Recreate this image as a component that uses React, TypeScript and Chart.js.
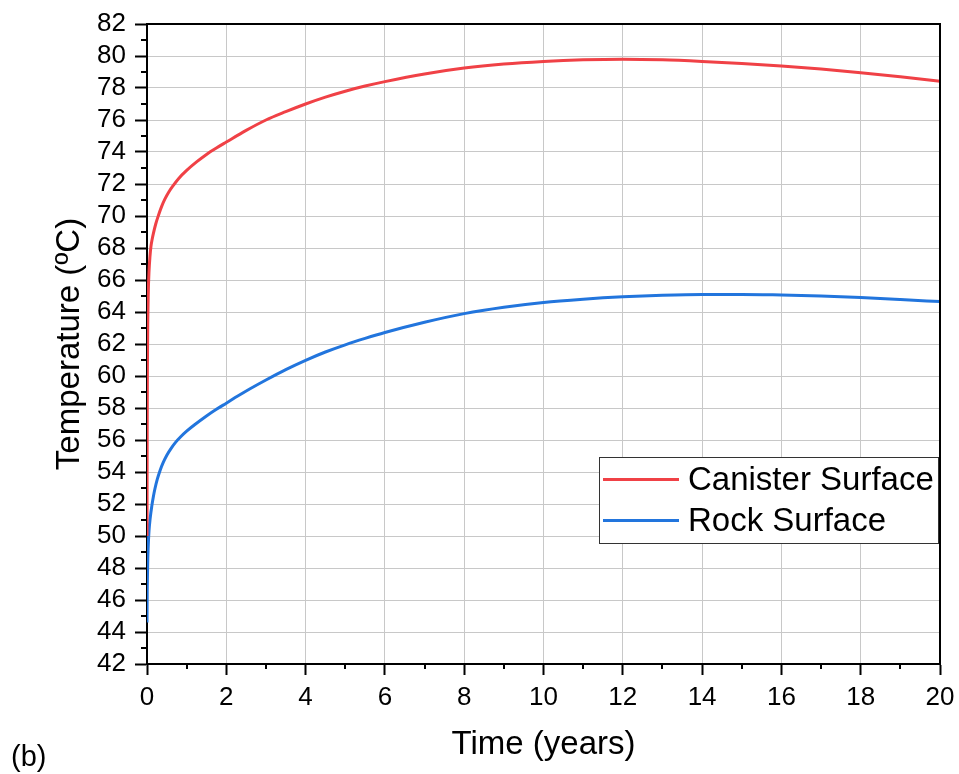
import React, { useEffect, useRef } from "react";
import { Chart, registerables } from "chart.js";

Chart.register(...registerables);

const FONT = "'Liberation Sans', Arial, sans-serif";

const canisterTime = [0, 0.005, 0.01, 0.02, 0.03, 0.05, 0.076, 0.1, 0.13, 0.16, 0.22, 0.29, 0.37, 0.45, 0.55, 0.66, 0.8, 1.0, 1.25, 1.5, 1.75, 2.0, 2.5, 3.0, 3.5, 4.0, 4.5, 5.0, 5.5, 6.0, 7.0, 8.0, 9.0, 10, 11, 12, 13, 14, 15, 16, 17, 18, 19, 20];
const canisterTemp = [50.0, 57.0, 60.5, 63.5, 65.0, 66.5, 67.5, 68.1, 68.55, 68.9, 69.5, 70.05, 70.6, 71.05, 71.5, 71.9, 72.35, 72.85, 73.38, 73.85, 74.25, 74.62, 75.35, 76.0, 76.52, 77.0, 77.43, 77.8, 78.12, 78.4, 78.88, 79.25, 79.5, 79.66, 79.76, 79.8, 79.76, 79.66, 79.53, 79.37, 79.18, 78.96, 78.7, 78.42];

const rockTime = [0, 0.005, 0.01, 0.02, 0.03, 0.05, 0.08, 0.12, 0.16, 0.2, 0.26, 0.33, 0.41, 0.5, 0.6, 0.72, 0.85, 1.0, 1.2, 1.5, 1.75, 2.0, 2.3, 2.6, 3.0, 3.5, 4.0, 4.5, 5.0, 5.5, 6.0, 7.0, 8.0, 9.0, 10, 11, 12, 13, 14, 15, 16, 17, 18, 19, 20];
const rockTemp = [44.6, 46.5, 47.3, 48.6, 49.3, 50.3, 51.1, 51.85, 52.45, 52.95, 53.55, 54.1, 54.6, 55.05, 55.45, 55.85, 56.2, 56.55, 56.95, 57.5, 57.92, 58.3, 58.76, 59.2, 59.75, 60.4, 60.98, 61.5, 61.95, 62.35, 62.72, 63.36, 63.9, 64.3, 64.6, 64.8, 64.95, 65.05, 65.1, 65.1, 65.06, 65.0, 64.9, 64.78, 64.65];

const seriesLabels = ["Canister Surface", "Rock Surface"];
const seriesColors = ["#F04146", "#2275DD"];

const xTitle = "Time (years)";
const yTitle = "Temperature (ºC)";
const panelLabel = "(b)";

const toPoints = (xs: number[], ys: number[]) => xs.map((x, i) => ({ x, y: ys[i] }));

const decorPlugin = {
  id: "decor",
  afterDraw(chart: any) {
    const { ctx, chartArea, scales } = chart;
    const { left, right, top, bottom } = chartArea;
    ctx.save();
    // frame top/right
    ctx.strokeStyle = "#000";
    ctx.lineWidth = 2;
    ctx.beginPath();
    ctx.moveTo(left - 1, top);
    ctx.lineTo(right, top);
    ctx.lineTo(right, bottom + 1);
    ctx.stroke();
    // minor ticks
    ctx.beginPath();
    for (let v = 1; v < 20; v += 2) {
      const px = Math.round(scales.x.getPixelForValue(v));
      ctx.moveTo(px, bottom);
      ctx.lineTo(px, bottom + 5);
    }
    for (let v = 43; v < 82; v += 2) {
      const py = Math.round(scales.y.getPixelForValue(v));
      ctx.moveTo(left, py);
      ctx.lineTo(left - 6, py);
    }
    ctx.stroke();

    // legend
    const bw = 339;
    const bh = 86;
    const bx = right - 2 - bw;
    const by = 457;
    ctx.fillStyle = "#fff";
    ctx.fillRect(bx, by, bw, bh);
    ctx.strokeStyle = "#333";
    ctx.lineWidth = 1;
    ctx.strokeRect(bx + 0.5, by + 0.5, bw, bh);
    const rows = [479.5, 520.5];
    chart.data.datasets.forEach((ds: any, i: number) => {
      ctx.strokeStyle = ds.borderColor;
      ctx.lineWidth = 3;
      ctx.beginPath();
      ctx.moveTo(bx + 4, rows[i]);
      ctx.lineTo(bx + 80, rows[i]);
      ctx.stroke();
      ctx.fillStyle = "#000";
      ctx.font = `33px ${FONT}`;
      ctx.textBaseline = "middle";
      ctx.textAlign = "left";
      ctx.fillText(ds.label, bx + 89, rows[i] + 1);
    });

    // panel label
    ctx.fillStyle = "#000";
    ctx.font = `29px ${FONT}`;
    ctx.textBaseline = "alphabetic";
    ctx.textAlign = "left";
    ctx.fillText(panelLabel, 11, 766);
    ctx.restore();
  },
};

export default function App() {
  const ref = useRef<HTMLCanvasElement | null>(null);

  useEffect(() => {
    if (!ref.current) return;
    const chart = new Chart(ref.current, {
      type: "scatter",
      data: {
        datasets: [
          {
            label: seriesLabels[0],
            data: toPoints(canisterTime, canisterTemp),
            borderColor: seriesColors[0],
            backgroundColor: seriesColors[0],
            borderWidth: 3,
            showLine: true,
            pointRadius: 0,
            cubicInterpolationMode: "monotone",
          },
          {
            label: seriesLabels[1],
            data: toPoints(rockTime, rockTemp),
            borderColor: seriesColors[1],
            backgroundColor: seriesColors[1],
            borderWidth: 3,
            showLine: true,
            pointRadius: 0,
            cubicInterpolationMode: "monotone",
          },
        ],
      },
      options: {
        animation: false,
        responsive: false,
        layout: { padding: { top: 24, right: 19, left: 0, bottom: 0 } },
        plugins: {
          legend: { display: false },
          tooltip: { enabled: false },
        },
        scales: {
          x: {
            type: "linear",
            min: 0,
            max: 20,
            ticks: {
              stepSize: 2,
              autoSkip: false,
              color: "#000",
              padding: 7,
              font: { family: FONT, size: 26 },
              maxRotation: 0,
            },
            grid: {
              color: "#c8c8c8",
              lineWidth: 1,
              tickColor: "#000",
              tickLength: 11,
              tickWidth: 2,
            },
            border: { color: "#000", width: 2 },
            title: {
              display: true,
              text: xTitle,
              color: "#000",
              font: { family: FONT, size: 33 },
              padding: { top: 0, bottom: 9 },
            },
            afterFit(scale: any) {
              scale.height = 110;
              scale.paddingLeft = 0;
              scale.paddingRight = 0;
            },
          },
          y: {
            type: "linear",
            min: 42,
            max: 82,
            ticks: {
              stepSize: 2,
              autoSkip: false,
              color: "#000",
              padding: 9,
              font: { family: FONT, size: 26 },
            },
            grid: {
              color: "#c8c8c8",
              lineWidth: 1,
              tickColor: "#000",
              tickLength: 12,
              tickWidth: 2,
            },
            border: { color: "#000", width: 2 },
            title: {
              display: true,
              text: yTitle,
              color: "#000",
              font: { family: FONT, size: 33 },
              padding: { top: 50, bottom: 0 },
            },
            afterFit(scale: any) {
              scale.width = 147;
              scale.paddingTop = 0;
              scale.paddingBottom = 0;
            },
          },
        },
      },
      plugins: [decorPlugin],
    } as any);
    return () => chart.destroy();
  }, []);

  return (
    <div style={{ position: "absolute", left: 0, top: 0, width: 959, height: 774, background: "#fff" }}>
      <canvas ref={ref} width={959} height={774} />
    </div>
  );
}
